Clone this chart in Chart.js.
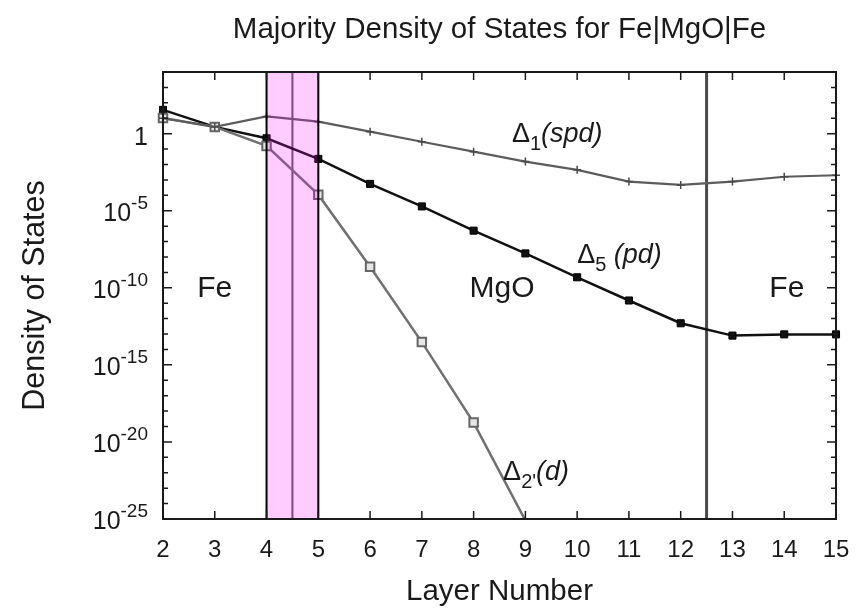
<!DOCTYPE html>
<html lang="en">
<head>
  <meta charset="UTF-8" />
  <title>Majority Density of States for Fe|MgO|Fe</title>
  <script src="https://cdn.jsdelivr.net/npm/chart.js"></script>
  <style>
    body { margin: 0; background: #fff; }
    canvas { display: block; }
  </style>
</head>
<body>
  <canvas id="dos" width="858" height="608"></canvas>

  <script>
    // layer index along the junction
    const layers = [2, 3, 4, 5, 6, 7, 8, 9, 10, 11, 12, 13, 14, 15];

    // density of states per layer for each symmetry band
    const delta1 = [10, 2.75, 13, 6.0, 1.35, 0.30, 0.068, 0.0155, 4.5e-3, 7.8e-4, 4.7e-4, 7.8e-4, 1.6e-3, 2.0e-3];
    const delta5 = [35, 2.75, 0.5, 0.023, 5.5e-4, 1.9e-5, 5.1e-7, 1.7e-8, 4.8e-10, 1.5e-11, 5.0e-13, 7.9e-14, 9.5e-14, 9.5e-14];
    const delta2 = [10.5, 2.75, 0.16, 1.1e-4, 2.3e-9, 3.0e-14, 1.8e-19, 8e-26];

    // labelled decades on the y axis (powers of ten)
    const yLabelExps = [0, -5, -10, -15, -20, -25];
    const yMin = 1e-25, yMax = 1e4;

    // interface region and boundary
    const barrierStart = 4, barrierMid = 4.5, barrierEnd = 5;
    const rightInterface = 12.5;

    const FONT = '"Liberation Sans", Arial, Helvetica, sans-serif';
    const INK = '#1a1a1a';

    // text runs: [text, size, dy, italic]; y is the baseline
    const notes = [
      { x: 3.0, y: 2.6e-11, align: 'center', runs: [['Fe', 30, 0, false]] },
      { x: 8.55, y: 2.6e-11, align: 'center', runs: [['MgO', 30, 0, false]] },
      { x: 14.05, y: 2.6e-11, align: 'center', runs: [['Fe', 30, 0, false]] },
      { x: 8.74, y: 0.29, align: 'left', runs: [['Δ', 27, 0, false], ['1', 20, 8, false], ['(spd)', 27, 0, true]] },
      { x: 10.0, y: 4.1e-9, align: 'left', runs: [['Δ', 27, 0, false], ['5', 20, 8, false], [' (pd)', 27, 0, true]] },
      { x: 8.57, y: 3.4e-23, align: 'left', runs: [['Δ', 27, 0, false], ['2\'', 20, 8, false], ['(d)', 27, 0, true]] }
    ];

    function drawRuns(ctx, runs, x, y, align, baseline) {
      let total = 0;
      runs.forEach(r => {
        ctx.font = (r[3] ? 'italic ' : '') + r[1] + 'px ' + FONT;
        total += ctx.measureText(r[0]).width;
      });
      let cx = align === 'center' ? x - total / 2 : (align === 'right' ? x - total : x);
      ctx.textAlign = 'left';
      ctx.textBaseline = baseline || 'alphabetic';
      runs.forEach(r => {
        ctx.font = (r[3] ? 'italic ' : '') + r[1] + 'px ' + FONT;
        ctx.fillText(r[0], cx, y + r[2]);
        cx += ctx.measureText(r[0]).width;
      });
    }

    const framePlugin = {
      id: 'frame',
      beforeDatasetsDraw(chart) {
        const { ctx, chartArea: a, scales: { x } } = chart;
        ctx.save();
        // interface marks behind the curves
        ctx.strokeStyle = '#5a5a5a';
        ctx.lineWidth = 2;
        ctx.beginPath();
        const xm = x.getPixelForValue(barrierMid);
        ctx.moveTo(xm, a.top); ctx.lineTo(xm, a.bottom);
        ctx.stroke();
        ctx.strokeStyle = '#4a4a4a';
        ctx.lineWidth = 3;
        ctx.beginPath();
        const xr = x.getPixelForValue(rightInterface);
        ctx.moveTo(xr, a.top); ctx.lineTo(xr, a.bottom);
        ctx.stroke();
        ctx.restore();
      },
      afterDatasetsDraw(chart) {
        const { ctx, chartArea: a, scales: { x, y } } = chart;
        ctx.save();

        // shaded barrier interface
        const x0 = x.getPixelForValue(barrierStart), x1 = x.getPixelForValue(barrierEnd);
        ctx.fillStyle = 'rgba(255, 0, 255, 0.2)';
        ctx.fillRect(x0, a.top, x1 - x0, a.bottom - a.top);
        ctx.strokeStyle = '#000';
        ctx.lineWidth = 2;
        ctx.strokeRect(x0, a.top, x1 - x0, a.bottom - a.top);

        // border
        ctx.strokeStyle = INK;
        ctx.lineWidth = 2;
        ctx.strokeRect(a.left, a.top, a.right - a.left, a.bottom - a.top);

        // inward ticks, mirrored on every side
        ctx.lineWidth = 1.5;
        ctx.beginPath();
        layers.forEach(v => {
          const px = x.getPixelForValue(v);
          ctx.moveTo(px, a.bottom); ctx.lineTo(px, a.bottom - 8);
          ctx.moveTo(px, a.top); ctx.lineTo(px, a.top + 8);
        });
        for (let e = -25; e <= 4; e++) {
          const py = y.getPixelForValue(Math.pow(10, e));
          const len = e % 5 === 0 ? 9 : 5;
          ctx.moveTo(a.left, py); ctx.lineTo(a.left + len, py);
          ctx.moveTo(a.right, py); ctx.lineTo(a.right - len, py);
        }
        ctx.stroke();

        ctx.fillStyle = INK;

        // x tick labels
        ctx.font = '24px ' + FONT;
        ctx.textAlign = 'center';
        ctx.textBaseline = 'middle';
        layers.forEach(v => ctx.fillText(String(v), x.getPixelForValue(v), 550));

        // y tick labels as powers of ten
        yLabelExps.forEach(e => {
          const py = y.getPixelForValue(Math.pow(10, e));
          if (e === 0) {
            drawRuns(ctx, [['1', 25, 0, false]], 148, py + 4, 'right', 'middle');
          } else {
            drawRuns(ctx, [['10', 25, 3, false], [String(e), 19, -7, false]], 148, py, 'right', 'middle');
          }
        });

        // titles
        ctx.textAlign = 'center';
        ctx.textBaseline = 'alphabetic';
        ctx.font = '29.5px ' + FONT;
        ctx.fillText('Majority Density of States for Fe|MgO|Fe', (a.left + a.right) / 2, 38);
        ctx.fillText('Layer Number', (a.left + a.right) / 2, 600);
        ctx.save();
        ctx.translate(44, (a.top + a.bottom) / 2);
        ctx.rotate(-Math.PI / 2);
        ctx.font = '30.5px ' + FONT;
        ctx.fillText('Density of States', 0, 0);
        ctx.restore();

        // region and band labels
        notes.forEach(n => drawRuns(ctx, n.runs, x.getPixelForValue(n.x), y.getPixelForValue(n.y), n.align));

        ctx.restore();
      }
    };

    const pts = arr => arr.map((v, i) => ({ x: layers[i], y: v }));
    const edgeClip = { left: 12, right: 12, top: 0, bottom: 0 };
    // points that fall below the axis floor stay hidden
    const onScale = r => c => (c.raw && c.raw.y < yMin ? 0 : r);

    new Chart(document.getElementById('dos'), {
      type: 'line',
      data: {
        datasets: [
          {
            label: 'Δ1 (spd)',
            data: pts(delta1),
            borderColor: '#5c5c5c',
            borderWidth: 2.2,
            pointStyle: 'cross',
            pointRadius: 4,
            pointBorderWidth: 1.5,
            pointBorderColor: '#4a4a4a',
            tension: 0,
            clip: edgeClip
          },
          {
            label: 'Δ2\' (d)',
            data: pts(delta2),
            borderColor: '#707070',
            borderWidth: 2.5,
            pointStyle: 'rect',
            pointRadius: onScale(6),
            pointBorderWidth: 2,
            pointBorderColor: '#666',
            pointBackgroundColor: '#e6e6e6',
            tension: 0,
            clip: edgeClip
          },
          {
            label: 'Δ5 (pd)',
            data: pts(delta5),
            borderColor: '#111',
            borderWidth: 2.5,
            pointStyle: 'rect',
            pointRadius: 5,
            pointBorderWidth: 1,
            pointBorderColor: '#000',
            pointBackgroundColor: '#111',
            tension: 0,
            clip: edgeClip
          }
        ]
      },
      options: {
        responsive: false,
        animation: false,
        events: [],
        layout: { padding: { top: 72, right: 22, left: 0, bottom: 0 } },
        plugins: {
          legend: { display: false },
          title: { display: false },
          tooltip: { enabled: false }
        },
        scales: {
          x: {
            type: 'linear',
            min: 2,
            max: 15,
            ticks: { display: false, stepSize: 1 },
            grid: { display: false },
            border: { display: false },
            afterFit(scale) { scale.height = 89; }
          },
          y: {
            type: 'logarithmic',
            min: yMin,
            max: yMax,
            ticks: { display: false },
            grid: { display: false },
            border: { display: false },
            afterFit(scale) { scale.width = 163; }
          }
        }
      },
      plugins: [framePlugin]
    });
  </script>
</body>
</html>
